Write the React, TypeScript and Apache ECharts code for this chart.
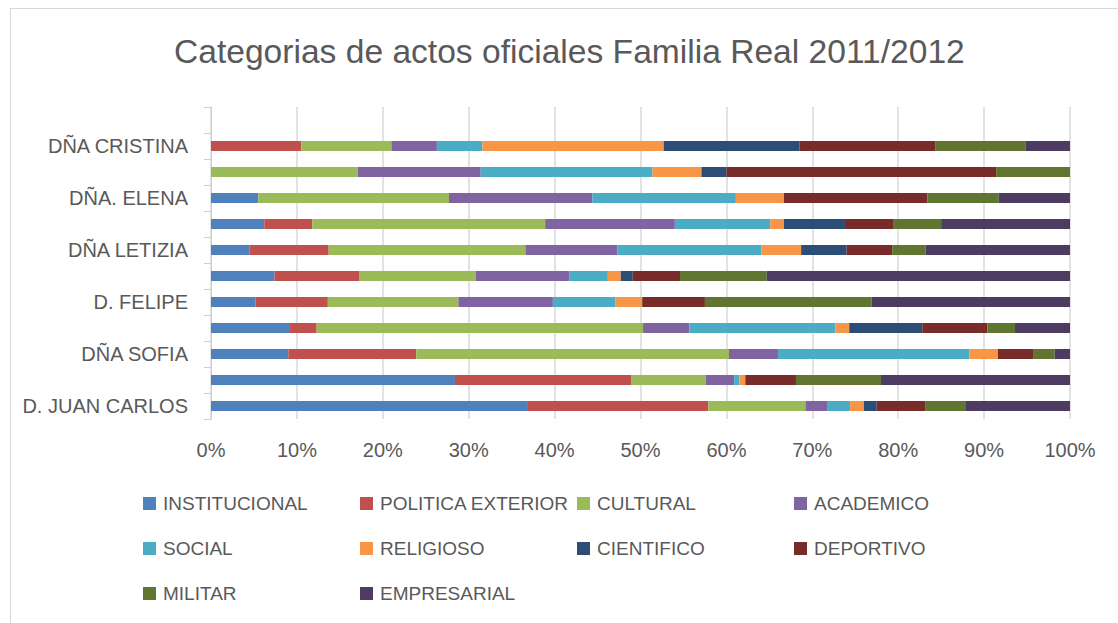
import React, { useEffect, useRef } from "react";
import * as echarts from "echarts";

const categories = [
  "D. JUAN CARLOS", "", "DÑA SOFIA", "", "D. FELIPE", "", "DÑA LETIZIA", "", "DÑA. ELENA", "", "DÑA CRISTINA", "",
];

const seriesNames = [
  "INSTITUCIONAL", "POLITICA EXTERIOR", "CULTURAL", "ACADEMICO", "SOCIAL",
  "RELIGIOSO", "CIENTIFICO", "DEPORTIVO", "MILITAR", "EMPRESARIAL",
];

const colors = [
  "#4F81BD", "#C0504D", "#9BBB59", "#8064A2", "#4BACC6",
  "#F79646", "#2C4D75", "#772C2A", "#5F7530", "#4D3B62",
];

const institucional = [36.8, 28.4, 9.0, 9.2, 5.2, 7.4, 4.5, 6.2, 5.5, 0, 0, null];
const politicaExterior = [21.1, 20.5, 14.9, 3.1, 8.4, 9.9, 9.2, 5.6, 0, 0, 10.5, null];
const cultural = [11.3, 8.7, 36.4, 38.0, 15.2, 13.5, 22.9, 27.1, 22.2, 17.1, 10.5, null];
const academico = [2.6, 3.3, 5.7, 5.4, 11.0, 10.9, 10.7, 15.1, 16.7, 14.3, 5.3, null];
const social = [2.6, 0.6, 22.3, 17.0, 7.3, 4.5, 16.8, 11.1, 16.7, 20.0, 5.3, null];
const religioso = [1.6, 0.7, 3.3, 1.6, 3.1, 1.5, 4.6, 1.6, 5.6, 5.7, 21.1, null];
const cientifico = [1.5, 0, 0, 8.5, 0, 1.4, 5.3, 7.1, 0, 2.9, 15.8, null];
const deportivo = [5.7, 5.9, 4.1, 7.6, 7.3, 5.5, 5.3, 5.6, 16.7, 31.4, 15.8, null];
const militar = [4.6, 9.9, 2.5, 3.2, 19.4, 10.1, 3.9, 5.6, 8.3, 8.6, 10.5, null];
const empresarial = [12.2, 22.0, 1.8, 6.4, 23.1, 35.3, 16.8, 15.0, 8.3, 0, 5.2, null];

const seriesValues = [
  institucional, politicaExterior, cultural, academico, social,
  religioso, cientifico, deportivo, militar, empresarial,
];

const xTicks = [0, 10, 20, 30, 40, 50, 60, 70, 80, 90, 100];

const FONT = "'Liberation Sans', Arial, sans-serif";
const TEXT = "#595959";

// legend layout: 4 columns x 3 rows
const legendCols = [143, 360, 577, 794];
const legendRows = [494, 539, 584];

export default function App() {
  const ref = useRef<HTMLDivElement>(null);
  useEffect(() => {
    document.body.style.margin = "0";
    if (!ref.current) return;
    const chart = echarts.init(ref.current, undefined, { renderer: "svg" });
    const legends = seriesNames.map((name, i) => ({
      data: [name],
      left: legendCols[i % 4],
      top: legendRows[Math.floor(i / 4)],
      padding: 0,
      itemWidth: 13,
      itemHeight: 13,
      icon: "rect",
      selectedMode: false,
      textStyle: { fontFamily: FONT, fontSize: 19, color: TEXT, padding: [0, 0, 0, 2] },
    }));
    chart.setOption({
      animation: false,
      backgroundColor: "#ffffff",
      title: {
        text: "Categorias de actos oficiales Familia Real 2011/2012",
        left: 174,
        top: 34,
        padding: 0,
        textStyle: { fontFamily: FONT, fontSize: 33.6, fontWeight: "normal", color: TEXT },
      },
      legend: legends,
      grid: { left: 211, right: 48, top: 107, bottom: 204, containLabel: false },
      xAxis: {
        type: "value",
        min: 0,
        max: 100,
        interval: 10,
        axisLine: { show: false },
        axisTick: { show: false },
        splitLine: { lineStyle: { color: "#d9d9d9", width: 1.5 } },
        axisLabel: {
          margin: 21,
          fontFamily: FONT,
          fontSize: 20,
          color: TEXT,
          formatter: (v: number) => (xTicks.includes(v) ? v + "%" : ""),
        },
      },
      yAxis: {
        type: "category",
        data: categories,
        axisLine: { show: true, lineStyle: { color: "#d0d0d0", width: 1 } },
        axisTick: { show: true, interval: 0, length: 7, lineStyle: { color: "#d0d0d0" } },
        axisLabel: { interval: 0, margin: 23, fontFamily: FONT, fontSize: 20, color: TEXT },
      },
      series: seriesNames.map((name, i) => ({
        name,
        type: "bar",
        stack: "total",
        barWidth: 10,
        itemStyle: { color: colors[i] },
        data: seriesValues[i],
      })),
      graphic: [
        { type: "line", shape: { x1: 10, y1: 8.5, x2: 1118, y2: 8.5 }, style: { stroke: "#d9d9d9", lineWidth: 1 } },
        { type: "line", shape: { x1: 10.5, y1: 8, x2: 10.5, y2: 623 }, style: { stroke: "#d9d9d9", lineWidth: 1 } },
      ],
    });
    return () => chart.dispose();
  }, []);
  return <div ref={ref} style={{ position: "fixed", left: 0, top: 0, width: 1118, height: 623 }} />;
}
